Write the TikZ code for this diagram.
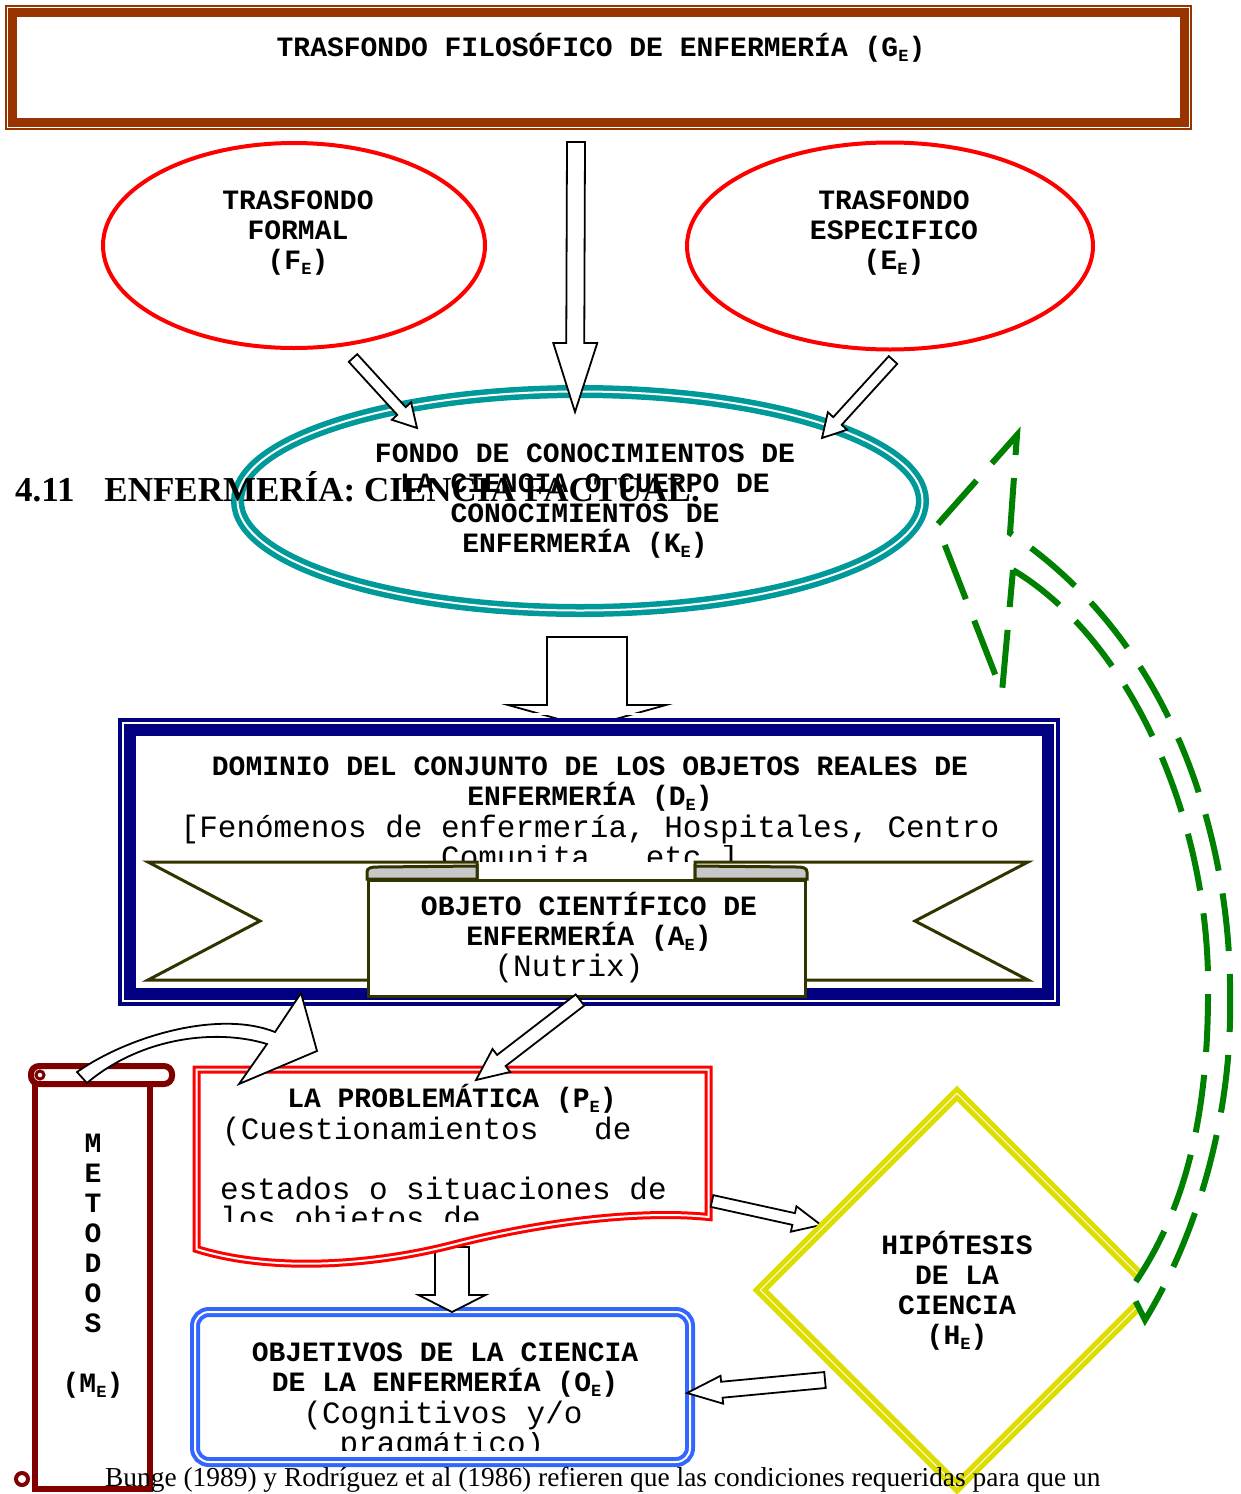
\documentclass[tikz,border=0pt]{standalone}
\usepackage{fontspec}
\newfontfamily\monofont{Liberation Mono}
\newfontfamily\timesfont{Liberation Serif}
\usetikzlibrary{calc,shapes.geometric}

\definecolor{gbrown}{HTML}{993300}
\definecolor{ered}{HTML}{FF0000}
\definecolor{kteal}{HTML}{009999}
\definecolor{dnavy}{HTML}{000080}
\definecolor{aolive}{HTML}{333300}
\definecolor{acurl}{HTML}{C8C8C8}
\definecolor{mred}{HTML}{800000}
\definecolor{oblue}{HTML}{3366FF}
\definecolor{hyellow}{HTML}{DDDD00}
\definecolor{lgreen}{HTML}{008000}

\newcommand\subE{\raisebox{-5pt}{\fontsize{17}{17}\selectfont E}}
\newcommand\hollowarrow[5]{%
  \coordinate (ha-base) at ($(#2)!#5!(#1)$);
  \draw[hollow] ($(#1)!#3!90:(#2)$) -- ($(ha-base)!#3!90:(#2)$)
    -- ($(ha-base)!#4!90:(#2)$) -- (#2) -- ($(ha-base)!#4!-90:(#2)$)
    -- ($(ha-base)!#3!-90:(#2)$) -- ($(#1)!#3!-90:(#2)$) -- cycle;}

\tikzset{
  boldtxt/.style={font=\monofont\bfseries\fontsize{28}{30}\selectfont, inner sep=0pt, align=center, anchor=base},
  plaintxt/.style={font=\monofont\fontsize{31}{30}\selectfont, inner sep=0pt, anchor=base},
  hollow/.style={draw=black, fill=white, line width=1.8pt},
  gframe/.style={draw=gbrown, line width=12pt, inner sep=0pt},
  fellipse/.style={ellipse, draw=ered, line width=4pt, inner sep=0pt},
  kellipse/.style={ellipse, draw=kteal, line width=5.5pt, double=white, double distance=2pt, inner sep=0pt},
  dframe/.style={draw=dnavy, line width=18pt, inner sep=0pt},
  ribbon/.style={draw=aolive, line width=3pt, line join=miter},
  apanel/.style={draw=aolive, fill=white, line width=3pt, inner sep=0pt},
  mscroll/.style={draw=mred, line width=6pt},
  pframe/.style={draw=ered, fill=white, line width=3pt, double=white, double distance=2pt},
  oframe/.style={draw=oblue, line width=4pt, double=white, double distance=2pt, rounded corners=14pt, inner sep=0pt},
  hdiamond/.style={diamond, draw=hyellow, line width=11pt, inner sep=0pt, postaction={draw=white, line width=0.8pt}},
  greenloop/.style={draw=lgreen, fill=white, line width=6pt, dash pattern=on 58pt off 23pt},
}

\begin{document}
\begin{tikzpicture}[x=1pt, y=-1pt]
\useasboundingbox (0,0) rectangle (1241,1494);

\node[gframe, minimum width=1175pt, minimum height=113pt] (gbox) at (598.5,67.5) {};
\draw[white, line width=1.5pt] ($(gbox.north west)+(2.5,2.5)$) rectangle ($(gbox.south east)+(-2.5,-2.5)$);
\node[boldtxt] (gtxt) at (601,56) {TRASFONDO FILOSÓFICO DE ENFERMERÍA (G\subE)};

\node[fellipse, minimum width=382pt, minimum height=205pt] (fbox) at (294,245.5) {};
\node[boldtxt] (ftxt) at (298,269) {TRASFONDO\\FORMAL\\(F\subE)};
\node[fellipse, minimum width=406pt, minimum height=207pt] (ebox) at (890,246) {};
\node[boldtxt] (etxt) at (894,269) {TRASFONDO\\ESPECIFICO\\(E\subE)};

\node[kellipse, minimum width=685pt, minimum height=219pt] (kbox) at (580,501) {};
\node[boldtxt] (ktxt) at (585,552) {FONDO DE CONOCIMIENTOS DE\\LA CIENCIA O CUERPO DE\\CONOCIMIENTOS DE\\ENFERMERÍA (K\subE)};

\coordinate (gout) at (576,142);
\coordinate (kin) at (575,412);
\coordinate (fout) at (353,358);
\coordinate (kleft) at (417,428);
\coordinate (eout) at (893,360);
\coordinate (kright) at (822,438);
\hollowarrow{gout}{kin}{9pt}{22pt}{69pt}
\hollowarrow{fout}{kleft}{5.7pt}{13pt}{23pt}
\hollowarrow{eout}{kright}{5.7pt}{13pt}{23pt}

\node[anchor=base west, inner sep=0pt, font=\timesfont\bfseries\fontsize{35}{35}\selectfont] (title) at (15,501) {4.11\hspace{30pt}ENFERMERÍA: CIENCIA FACTUAL.};

\coordinate (kout) at (587,637);
\coordinate (din) at (587,727);
\hollowarrow{kout}{din}{40pt}{79pt}{22pt}

\node[dframe, minimum width=924pt, minimum height=270pt] (dbox) at (589,862) {};
\draw[white, line width=2pt] ($(dbox.north west)+(-4,-4)$) rectangle ($(dbox.south east)+(4,4)$);
\draw[white, line width=2pt] ($(dbox.north west)+(5,5)$) rectangle ($(dbox.south east)+(-5,-5)$);
\node[boldtxt] (dtxt) at (590,805) {DOMINIO DEL CONJUNTO DE LOS OBJETOS REALES DE\\ENFERMERÍA (D\subE)};
\node[plaintxt] (dlist) at (590,837) {[Fenómenos de enfermería, Hospitales, Centro};
\begin{scope}
  \clip (140,845) rectangle (1040,861);
  \node[plaintxt] (dlist2) at (590,867) {Comunita., etc.]};
\end{scope}

\fill[white] (148,862) -- (1028,862) -- (915,921) -- (1028,980) -- (148,980) -- (260,921) -- cycle;
\draw[ribbon] (477,879) -- (477,862) -- (148,862) -- (260,921) -- (148,980) -- (367,980);
\draw[ribbon] (695,879) -- (695,862) -- (1028,862) -- (915,921) -- (1028,980) -- (807,980);
\filldraw[ribbon, fill=acurl] (367,879) -- (367,872) .. controls (367,868) and (371,867) .. (377,867) -- (477,866) -- (477,879) -- cycle;
\filldraw[ribbon, fill=acurl] (807,879) -- (807,872) .. controls (807,868) and (803,867) .. (797,867) -- (695,866) -- (695,879) -- cycle;
\node[apanel, minimum width=437pt, minimum height=116pt] (abox) at (587,938.5) {};
\node[boldtxt] (atxt) at (589,945) {OBJETO CIENTÍFICO DE\\ENFERMERÍA (A\subE)};
\node[plaintxt] (anote) at (569,976) {(Nutrix)};

\node[oframe, minimum width=495pt, minimum height=150pt] (obox) at (442.5,1387) {};
\node[boldtxt] (otxt) at (445,1391) {OBJETIVOS DE LA CIENCIA\\DE LA ENFERMERÍA (O\subE)};
\node[plaintxt] (onote) at (443,1423) {(Cognitivos y/o};
\begin{scope}
  \clip (200,1432) rectangle (685,1450);
  \node[plaintxt] (onote2) at (442,1453) {pragmático)};
\end{scope}

\coordinate (pout) at (452,1247);
\coordinate (oin) at (452,1312);
\hollowarrow{pout}{oin}{17pt}{33.5pt}{17pt}

\draw[pframe] (196.5,1069.5) -- (708.5,1069.5) -- (708.5,1217) .. controls (640,1210) and (540,1222) .. (452,1245) .. controls (370,1266) and (270,1272) .. (196.5,1249) -- cycle;
\node[boldtxt] (ptxt) at (452,1107) {LA PROBLEMÁTICA (P\subE)};
\node[plaintxt, anchor=base west] (pnote) at (222,1139) {(Cuestionamientos\ \ \ de};
\node[plaintxt, anchor=base west] (pnote2) at (220,1199) {estados o situaciones de};
\begin{scope}
  \clip (205,1205) rectangle (700,1221);
  \node[plaintxt, anchor=base west] (pnote3) at (220,1228) {los objetos de};
\end{scope}

\coordinate (aout) at (580,1000);
\coordinate (pin) at (476,1080);
\hollowarrow{aout}{pin}{7pt}{14.5pt}{32pt}
\coordinate (pright) at (712,1201);
\coordinate (hin) at (821,1225);
\hollowarrow{pright}{hin}{6pt}{13pt}{28pt}

\draw[mscroll] (35,1084) -- (35,1489) -- (150,1489) -- (150,1084);
\draw[mscroll, rounded corners=8pt] (31,1066) rectangle (172,1084);
\draw[mred, line width=3pt] (40,1075) circle (4pt);
\draw[mred, fill=white, line width=4pt] (22,1479) circle (6pt);
\node[boldtxt] (mtxt) at (93,1392) {M\\E\\T\\O\\D\\O\\S\\[30pt](M\subE)};

\draw[hollow] (77,1072) .. controls (130,1035) and (220,1010) .. (275,1032) -- (301,993) -- (317,1051) -- (239,1084) -- (267,1044) .. controls (215,1028) and (140,1038) .. (87,1083) -- cycle;

\node[hdiamond, minimum width=398pt, minimum height=398pt] (hbox) at (957,1290) {};
\node[boldtxt] (htxt) at (957,1344) {HIPÓTESIS\\DE LA\\CIENCIA\\(H\subE)};
\coordinate (hout) at (825,1380);
\coordinate (oright) at (687,1393);
\hollowarrow{hout}{oright}{8pt}{14pt}{35pt}

\draw[greenloop] (1013,570) .. controls (1130,640) and (1212,820) .. (1208,1000) .. controls (1207,1130) and (1180,1220) .. (1130,1290) -- (1145,1320) .. controls (1200,1230) and (1232,1110) .. (1230,1000) .. controls (1232,860) and (1185,650) .. (1010,533) -- (1017,435) -- (937,525) -- (1002,692) -- cycle;

\node[anchor=base west, inner sep=0pt, font=\timesfont\fontsize{27.4}{30}\selectfont] (bunge) at (105,1486) {Bunge (1989) y Rodríguez et al (1986) refieren que las condiciones requeridas para que un};
\end{tikzpicture}
\end{document}
